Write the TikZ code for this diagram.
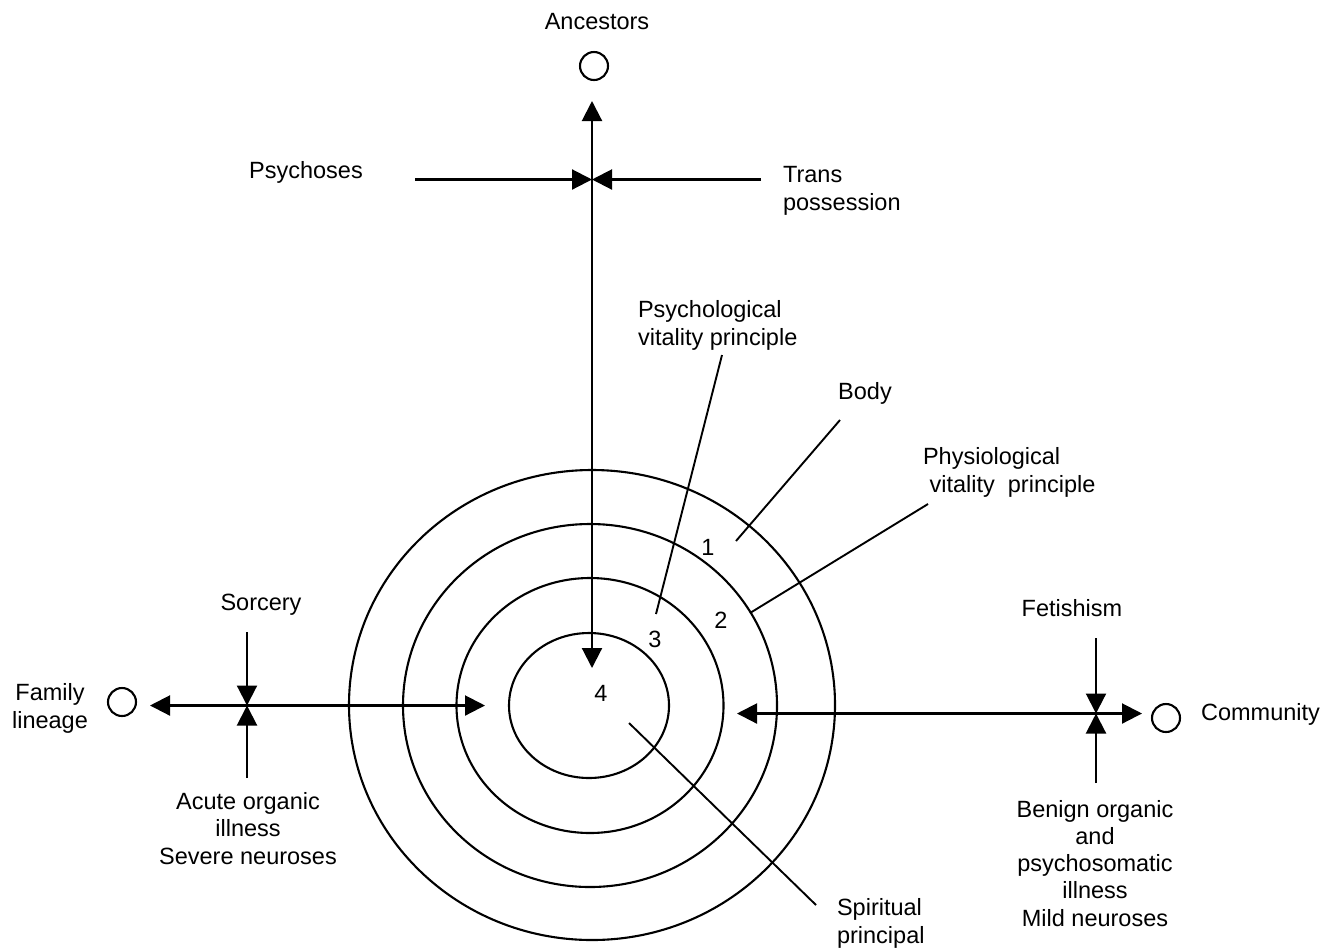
\documentclass[tikz,border=0pt]{standalone}
\usepackage{fontspec}
\setmainfont{Liberation Sans}
\usetikzlibrary{arrows.meta}
\begin{document}
\begin{tikzpicture}[x=0.5pt,y=-0.5pt,
  line width=1.05pt,
  lbl/.style={inner sep=0pt,font=\fontsize{11.75pt}{13.6pt}\selectfont},
  realm/.style={circle,draw,minimum size=14pt,inner sep=0pt},
  tip/.style={-{Triangle[length=10pt,width=10pt]}},
  twotip/.style={{Triangle[length=10pt,width=10pt]}-{Triangle[length=10pt,width=10pt]}},
  pointer/.style={line width=0.95pt}]
\useasboundingbox (0,0) rectangle (1332,949);

% concentric layers of the person
\draw (592,705) ellipse [x radius=243,y radius=235];
\draw (590,705.5) ellipse [x radius=187,y radius=181.5];
\draw (590,705.5) ellipse [x radius=133.5,y radius=127.5];
\draw (589,705.5) ellipse [x radius=80,y radius=72.5];

\node[lbl,anchor=base] (n1) at (708,555) {1};
\node[lbl,anchor=base] (n2) at (721,628) {2};
\node[lbl,anchor=base] (n3) at (655,647) {3};
\node[lbl,anchor=base] (n4) at (601,701) {4};

% the three outer realms
\node[realm] (anc) at (594,66) {};
\node[realm] (fam) at (122,702) {};
\node[realm] (com) at (1166,718) {};
\node[lbl,anchor=base] (ancT) at (597,29) {Ancestors};
% multi-line labels are placed by the baseline of their last line
\node[lbl,anchor=base,align=center] (famT) at (50,728) {Family\\lineage};
\node[lbl,anchor=base west] (comT) at (1200,720) {Community};

% vertical axis: ancestors
\coordinate (vTop) at (592,101);
\coordinate (vBot) at (592,668);
\coordinate (vMid) at (592,179.5);
\coordinate (psyL) at (415,179.5);
\coordinate (trR) at (761,179.5);
\draw[twotip] (vBot) -- (vTop);
\draw[tip] (psyL) -- (vMid);
\draw[tip] (trR) -- (vMid);
\node[lbl,anchor=base] (psyT) at (306,178) {Psychoses};
\node[lbl,anchor=base west,align=left] (trT) at (782,210) {Trans\\possession};

% left axis: family lineage
\coordinate (lL) at (150,705.5);
\coordinate (lR) at (485,705.5);
\coordinate (lMid) at (247,705.5);
\coordinate (sorTop) at (247,632);
\coordinate (sorBot) at (247,778);
\draw[twotip] (lL) -- (lR);
\draw[tip] (sorTop) -- (lMid);
\draw[tip] (sorBot) -- (lMid);
\node[lbl,anchor=base] (sorT) at (261,610) {Sorcery};
\node[lbl,anchor=base,align=center] (acuT) at (248,864) {Acute organic\\illness\\Severe neuroses};

% right axis: community
\coordinate (rL) at (737,713.5);
\coordinate (rR) at (1142,713.5);
\coordinate (rMid) at (1096,713.5);
\coordinate (fetTop) at (1096,638);
\coordinate (fetBot) at (1096,783);
\draw[twotip] (rL) -- (rR);
\draw[tip] (fetTop) -- (rMid);
\draw[tip] (fetBot) -- (rMid);
\node[lbl,anchor=base] (fetT) at (1072,616) {Fetishism};
\node[lbl,anchor=base,align=center] (benT) at (1095,926) {Benign organic\\and\\psychosomatic\\illness\\Mild neuroses};

% labels of the layers
\node[lbl,anchor=base west,align=left] (pscT) at (637,345) {Psychological\\vitality principle};
\node[lbl,anchor=base] (bodT) at (865,399) {Body};
\node[lbl,anchor=base west,align=left] (phyT) at (922,492) {Physiological\\~vitality~~principle};
\node[lbl,anchor=base west,align=left] (spiT) at (836,943) {Spiritual\\principal};

\coordinate (pscA) at (722,355);
\coordinate (pscB) at (656,614);
\coordinate (bodA) at (840,420);
\coordinate (bodB) at (736,541);
\coordinate (phyA) at (928,504);
\coordinate (phyB) at (750,613);
\coordinate (spiA) at (816,905);
\coordinate (spiB) at (629,723);
\draw[pointer] (pscA) -- (pscB);
\draw[pointer] (bodA) -- (bodB);
\draw[pointer] (phyA) -- (phyB);
\draw[pointer] (spiA) -- (spiB);
\end{tikzpicture}
\end{document}
